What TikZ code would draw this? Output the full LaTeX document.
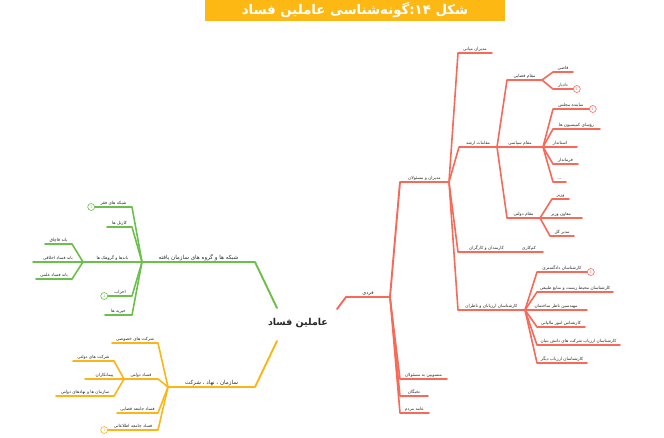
\documentclass[tikz,border=0pt]{standalone}
\usepackage{fontspec}
\TeXXeTstate=1
\newfontfamily\fa[Script=Arabic]{DejaVu Sans}
\definecolor{redc}{RGB}{250,104,88}
\definecolor{greenc}{RGB}{107,192,74}
\definecolor{orangec}{RGB}{253,181,21}
\definecolor{titlec}{RGB}{253,184,19}
\definecolor{lblc}{RGB}{40,40,40}
\newcommand\br[8]{%
  \coordinate (#3b) at (#4,#5);
  \coordinate (#3e) at (#6,#5);
  \draw[#1] (#2) -- (#3b) -- (#3e);
  \node[#8] (#3t) at ({(#4+#6)/2},{#5-2.4}) {#7};
}
\tikzset{
  conn/.style={line width=1.6pt, line join=round, line cap=round},
  redl/.style={conn, draw=redc},
  greenl/.style={conn, draw=greenc},
  orangel/.style={conn, draw=orangec},
  redm/.style={redl, line width=1.9pt},
  greenm/.style={greenl, line width=1.9pt},
  orangem/.style={orangel, line width=1.9pt},
  lbl/.style={anchor=base, inner sep=0pt, text=lblc, font=\fa\fontsize{4.3}{5}\selectfont},
  lblm/.style={lbl, font=\fa\fontsize{5.6}{6.5}\selectfont},
  lbln/.style={lbl, font=\fa\fontsize{5}{6}\selectfont},
  circ/.style={circle, draw=#1, fill=white, line width=0.6pt, inner sep=0pt, minimum size=7pt, font=\fontsize{4}{4.5}\selectfont, text=#1},
}
\begin{document}
\begin{tikzpicture}[x=1pt,y=-1pt]
\useasboundingbox (0,0) rectangle (664,438);
\fill[white] (0,0) rectangle (664,438);
% title
\node[fill=titlec, minimum width=300pt, minimum height=21pt, inner sep=0pt, text=white, font=\fa\bfseries\fontsize{13.3}{15}\selectfont] (title) at (355,10.5) {\beginR شکل ۱۴:گونه‌شناسی عاملین فساد\endR};
% center
\node[text=lblc, inner sep=0pt, font=\fa\bfseries\fontsize{9.5}{11}\selectfont] (center) at (298,323) {\beginR عاملین فساد\endR};
\coordinate (r0) at (337,309);
\coordinate (g0) at (277,308);
\coordinate (o0) at (277,341);
% ---------- red ----------
\br{redm}{r0}{fardi}{346}{297}{390}{\beginR فردی\endR}{lbln}
\br{redm}{fardie}{modir}{400}{182}{449}{\beginR مدیران و مسئولان\endR}{lbl}
\br{redl}{fardie}{mansub}{400}{379}{447}{\beginR منسوبین به مسئولان\endR}{lbl}
\br{redl}{fardie}{nokhbe}{400}{396}{428}{\beginR نخبگان\endR}{lbl}
\br{redl}{fardie}{ameh}{400}{413}{429}{\beginR عامه مردم\endR}{lbl}
\br{redl}{modire}{miani}{458}{53}{492}{\beginR مدیران میانی\endR}{lbl}
\br{redl}{modire}{arshad}{459}{147}{497}{\beginR مقامات ارشد\endR}{lbl}
\br{redl}{modire}{karmand}{458}{252}{515}{\beginR کارمندان و کارگران\endR}{lbl}
\br{redl}{karmande}{kamkari}{515}{252}{543}{\beginR کم‌کاری\endR}{lbl}
\br{redl}{modire}{karshenas}{458}{310}{525}{\beginR کارشناسان ارزیابان و ناظران\endR}{lbl}
\br{redl}{arshade}{qazai}{507}{80}{542}{\beginR مقام قضایی\endR}{lbl}
\br{redl}{arshade}{siasi}{497}{147}{543}{\beginR مقام سیاسی\endR}{lbl}
\br{redl}{arshade}{dolati}{507}{218}{540}{\beginR مقام دولتی\endR}{lbl}
\br{redl}{qazaie}{qazi}{553}{72}{573}{\beginR قاضی\endR}{lbl}
\br{redl}{qazaie}{dadyar}{553}{89}{573}{\beginR دادیار\endR}{lbl}
\node[circ=redc, anchor=west] (dadyarc) at (dadyare) {1};
\br{redl}{siasie}{namayande}{553}{109}{589}{\beginR نماینده مجلس\endR}{lbl}
\node[circ=redc, anchor=west] (namayandec) at (namayandee) {1};
\br{redl}{siasie}{roasa}{553}{129}{600}{\beginR رؤسای کمیسیون ها\endR}{lbl}
\br{redl}{siasie}{ostandar}{543}{147}{577}{\beginR استاندار\endR}{lbl}
\br{redl}{siasie}{farmandar}{553}{164}{578}{\beginR فرماندار\endR}{lbl}
\br{redl}{siasie}{etc}{553}{182}{566}{...}{lbl}
\br{redl}{dolatie}{vazir}{552}{199}{569}{\beginR وزیر\endR}{lbl}
\br{redl}{dolatie}{moaven}{540}{218}{582}{\beginR معاون وزیر\endR}{lbl}
\br{redl}{dolatie}{modirkol}{550}{236}{574}{\beginR مدیر کل\endR}{lbl}
\br{redl}{karshenase}{dadgostari}{537}{272}{587}{\beginR کارشناسان دادگستری\endR}{lbl}
\node[circ=redc, anchor=west] (dadgostaric) at (dadgostarie) {1};
\br{redl}{karshenase}{mohit}{537}{292}{613}{\beginR کارشناسان محیط زیست و منابع طبیعی\endR}{lbl}
\br{redl}{karshenase}{mohandes}{525}{310}{587}{\beginR مهندسین ناظر ساختمان\endR}{lbl}
\br{redl}{karshenase}{maliati}{537}{327}{585}{\beginR کارشناس امور مالیاتی\endR}{lbl}
\br{redl}{karshenase}{daneshbonyan}{537}{345}{620}{\beginR کارشناسان ارزیاب شرکت های دانش بنیان\endR}{lbl}
\br{redl}{karshenase}{digar}{537}{363}{587}{\beginR کارشناسان ارزیاب دیگر\endR}{lbl}
% ---------- green ----------
\br{greenm}{g0}{shabake}{255}{262}{142}{\beginR شبکه ها و گروه های سازمان یافته\endR}{lblm}
\br{greenl}{shabakee}{faqr}{132}{207}{95}{\beginR شبکه های فقر\endR}{lbl}
\node[circ=greenc, anchor=east] (faqrc) at (faqre) {1};
\br{greenl}{shabakee}{kartel}{132}{227}{107}{\beginR کارتل ها\endR}{lbl}
\br{greenl}{shabakee}{band}{142}{262}{83}{\beginR باندها و گروهک ها\endR}{lbl}
\br{greenl}{shabakee}{ahzab}{132}{296}{108}{\beginR احزاب\endR}{lbl}
\node[circ=greenc, anchor=east] (ahzabc) at (ahzabe) {1};
\br{greenl}{shabakee}{kheyrie}{132}{315}{105}{\beginR خیریه ها\endR}{lbl}
\br{greenl}{bande}{qachaq}{72}{244}{45}{\beginR باند قاچاق\endR}{lbl}
\br{greenl}{bande}{akhlaqi}{83}{262}{33}{\beginR باند فساد اخلاقی\endR}{lbl}
\br{greenl}{bande}{elmi}{72}{279}{36}{\beginR باند فساد علمی\endR}{lbl}
% ---------- orange ----------
\br{orangem}{o0}{sazman}{255}{387}{168}{\beginR سازمان ، نهاد ، شرکت\endR}{lblm}
\br{orangel}{sazmane}{khosusi}{158}{343}{112}{\beginR شرکت های خصوصی\endR}{lbl}
\br{orangel}{sazmane}{fasaddolati}{158}{379}{124}{\beginR فساد دولتی\endR}{lbl}
\br{orangel}{sazmane}{qazaii}{158}{413}{117}{\beginR فساد جامعه قضایی\endR}{lbl}
\br{orangel}{sazmane}{ettelaati}{158}{430}{108}{\beginR فساد جامعه اطلاعاتی\endR}{lbl}
\node[circ=orangec, anchor=east] (ettelaatic) at (ettelaatie) {1};
\br{orangel}{fasaddolatie}{sherkatdolati}{114}{361}{73}{\beginR شرکت های دولتی\endR}{lbl}
\br{orangel}{fasaddolatie}{peymankar}{124}{379}{85}{\beginR پیمانکاران\endR}{lbl}
\br{orangel}{fasaddolatie}{nahad}{114}{396}{56}{\beginR سازمان ها و نهادهای دولتی\endR}{lbl}
\end{tikzpicture}
\end{document}
